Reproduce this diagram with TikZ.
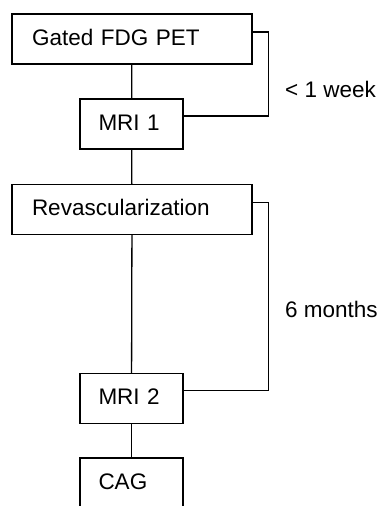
\documentclass[tikz,border=0pt]{standalone}
\usepackage{fontspec}
\setmainfont{Liberation Sans}
\usetikzlibrary{positioning}

\begin{document}
\begin{tikzpicture}[x=1pt, y=-1pt,
    every node/.style={font=\fontsize{22.5}{26}\selectfont},
    widebox/.style={draw, line width=1.3pt, text width=200pt, inner xsep=20pt, text height=16pt, text depth=4pt, minimum height=50pt, align=left},
    narrowbox/.style={draw, line width=1.3pt, text width=66pt, inner xsep=18.5pt, text height=16pt, text depth=4pt, minimum height=50pt, align=left},
    link/.style={line width=1.3pt}]
    \clip (0,0) rectangle (384,506);
    \node[widebox] (pet) at (132, 39) {Gated FDG PET};
    \node[narrowbox] (mri1) at (131.5, 124) {MRI 1};
    \node[widebox] (revasc) at (132, 209.5) {Revascularization};
    \node[narrowbox] (mri2) at (131.5, 398.5) {MRI 2};
    \node[narrowbox] (cag) at (131.5, 483) {CAG};
    \node[anchor=base west, inner sep=0pt] (week) at (285, 97) {< 1 week};
    \node[anchor=base west, inner sep=0pt] (months) at (285, 317) {6 months};
\draw[link] (pet) -- (mri1);
\draw[link] (mri1) -- (revasc);
\draw[link] (revasc) -- (mri2);
\draw[link] (mri2) -- (cag);
\draw[link] ([yshift=7pt]pet.east) -- ++(16,0) |- ([yshift=8pt]mri1.east);
\draw[link] ([yshift=7pt]revasc.east) -- ++(16,0) |- ([yshift=8pt]mri2.east);
\end{tikzpicture}
\end{document}
